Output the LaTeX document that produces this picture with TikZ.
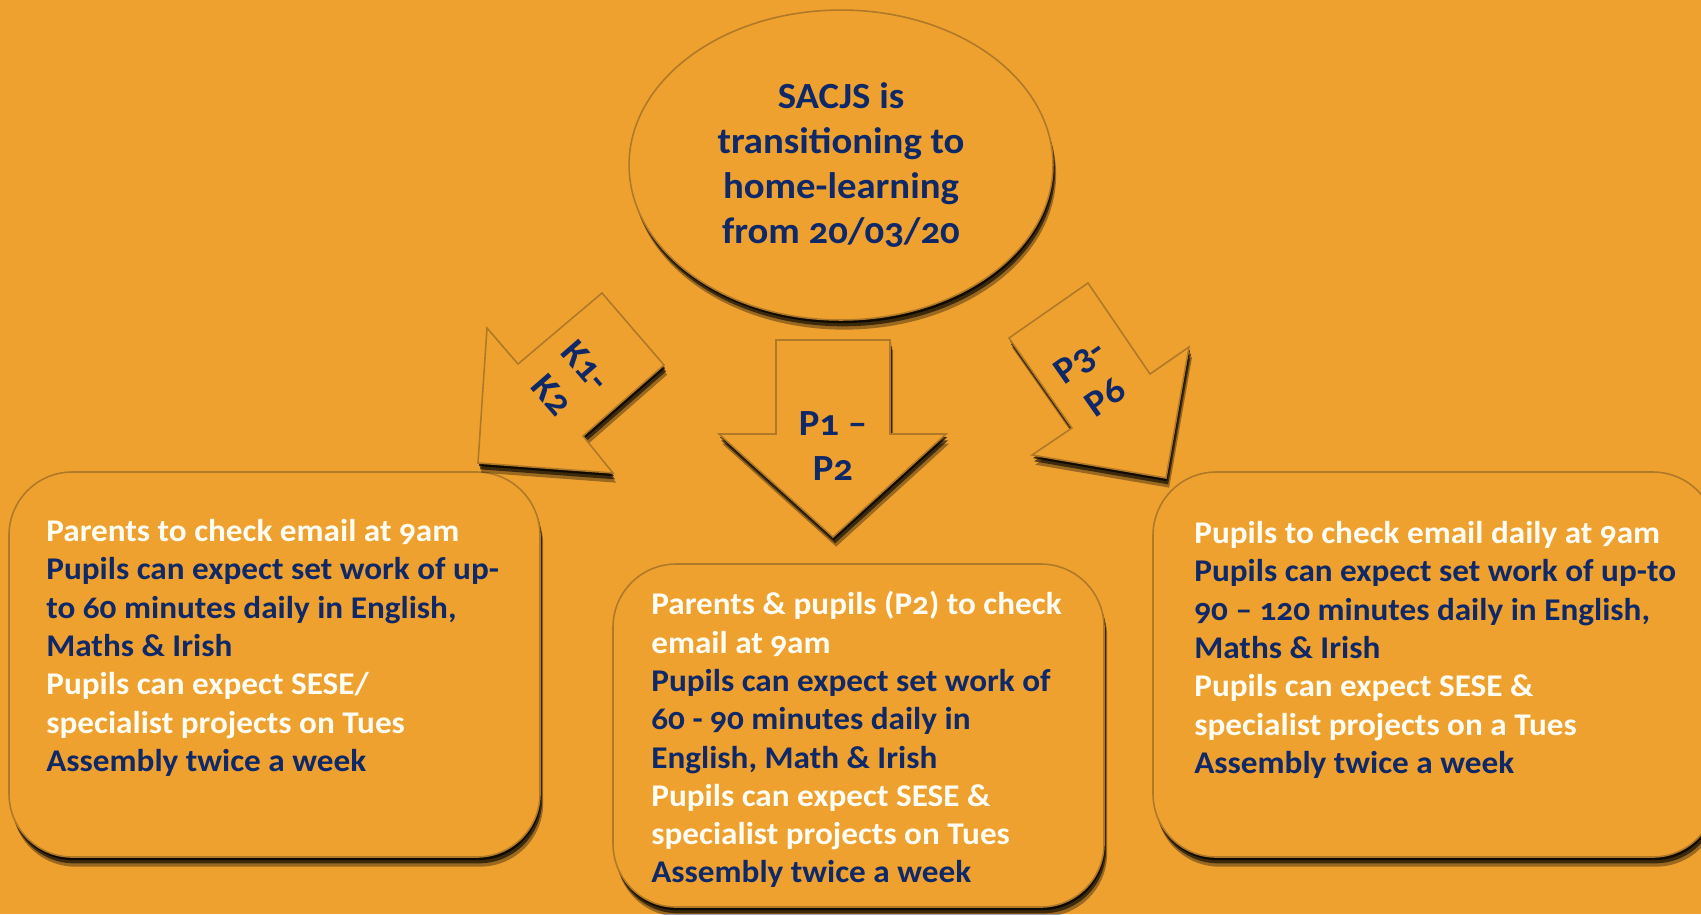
\documentclass[tikz,border=0pt]{standalone}
\usepackage{fontspec}
\setmainfont{Carlito}[Numbers=OldStyle,FakeStretch=1.05]
\usetikzlibrary{shapes.geometric,shadows}

\definecolor{bgorange}{RGB}{238,161,47}
\definecolor{rimbrown}{RGB}{176,121,40}
\definecolor{navy}{RGB}{14,40,104}
\definecolor{paleink}{RGB}{255,253,244}
\newcommand{\lite}[1]{\textcolor{paleink}{#1}}

\begin{document}
\begin{tikzpicture}[x=0.02cm,y=-0.02cm,
    softshade/.style={
      drop shadow={shadow xshift=0.6pt,shadow yshift=-1.8pt,opacity=0.75,fill=black},
      drop shadow={shadow xshift=1.2pt,shadow yshift=-3.6pt,opacity=0.6,fill=black},
      drop shadow={shadow xshift=1.8pt,shadow yshift=-5.5pt,opacity=0.35,fill=black}},
    panel/.style={softshade,draw=rimbrown,line width=0.9pt,fill=bgorange,rounded corners=36pt},
    hub/.style={softshade,ellipse,draw=rimbrown,line width=0.9pt,fill=bgorange,
      minimum width=8.48cm,minimum height=6.2cm,inner sep=0pt,align=center,text=navy,
      font=\fontsize{21}{25.6}\selectfont\bfseries},
    blockarrow/.style={softshade,draw=rimbrown,line width=0.9pt,fill=bgorange,line join=miter},
    tag/.style={align=center,text=navy,inner sep=0pt,font=\fontsize{21}{25.6}\selectfont\bfseries},
    notes/.style={align=left,anchor=north west,inner sep=0pt,text=navy,
      font=\fontsize{18}{21.8}\selectfont\bfseries}]

    % page
    \fill[bgorange] (0,0) rectangle (1701,914);
    \useasboundingbox (0,0) rectangle (1701,914);

    % boxes
    \draw[panel] (9,472) rectangle (540,857);
    \draw[panel] (613,564) rectangle (1104,907);
    \draw[panel] (1153,472) rectangle (1716,857);

    \node[notes] (knotes) at (46,519) {\lite{Parents to check email at 9am}\\
        Pupils can expect set work of up-\\
        to 60 minutes daily in English,\\
        Maths \& Irish\\
        \lite{Pupils can expect SESE/}\\
        \lite{specialist projects on Tues}\\
        Assembly twice a week};
    \node[notes] (pnotes) at (651,591) {\lite{Parents \& pupils (P2) to check}\\
        \lite{email at 9am}\\
        Pupils can expect set work of\\
        60 - 90 minutes daily in\\
        English, Math \& Irish\\
        \lite{Pupils can expect SESE \&}\\
        \lite{specialist projects on Tues}\\
        Assembly twice a week};
    \node[notes] (snotes) at (1194,521) {\lite{Pupils to check email daily at 9am}\\
        Pupils can expect set work of up-to\\
        90 -- 120 minutes daily in English,\\
        Maths \& Irish\\
        \lite{Pupils can expect SESE \&}\\
        \lite{specialist projects on a Tues}\\
        Assembly twice a week};

    % centre
    \node[hub] (hub) at (841,165) {SACJS is\\transitioning to\\home-learning\\from 20/03/20};

    % arrows
    \draw[blockarrow] (602,293) -- (664,365) -- (583,436) -- (613,473) -- (478,463)
        -- (487,328) -- (518,364) -- cycle;
    \draw[blockarrow] (776,340) -- (890,340) -- (890,434) -- (946,434) -- (833,537)
        -- (719,434) -- (776,434) -- cycle;
    \draw[blockarrow] (1088,283) -- (1150,374) -- (1189,347) -- (1166,478) -- (1032,455)
        -- (1072,428) -- (1009,338) -- cycle;

    \node[tag,rotate=-49] (ktag) at (569,380) {K1-\\K2};
    \node[tag] (ptag) at (833,446) {P1 --\\P2};
    \node[tag,rotate=35] (stag) at (1092,379) {P3-\\P6};
\end{tikzpicture}
\end{document}
